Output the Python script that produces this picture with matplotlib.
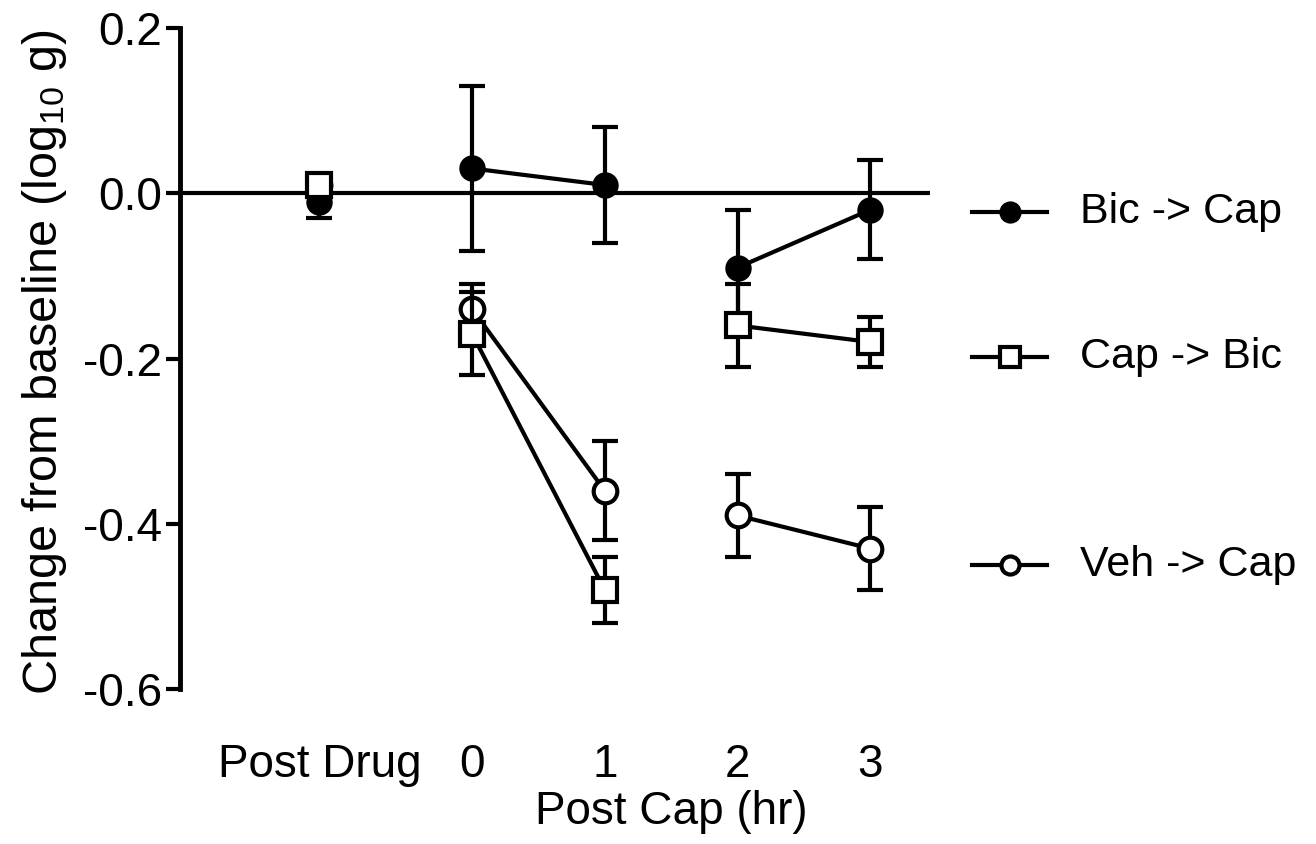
import matplotlib
matplotlib.use('Agg')
import matplotlib.pyplot as plt
import numpy as np

plt.rcParams['font.family'] = ['Liberation Sans', 'DejaVu Sans']
plt.rcParams['mathtext.default'] = 'regular'
plt.rcParams['axes.unicode_minus'] = False

# x positions (post drug sits a bit further left), tick labels
x_pos = [-1.15, 0, 1, 2, 3]
x_labels = ['Post Drug', '0', '1', '2', '3']

# mean and error (log10 g change from baseline)
bic_cap = [-0.01, 0.03, 0.01, -0.09, -0.02]
bic_cap_err = [0.02, 0.10, 0.07, 0.07, 0.06]
cap_bic = [0.01, -0.17, -0.48, -0.16, -0.18]
cap_bic_err = [0.01, 0.05, 0.04, 0.05, 0.03]
veh_cap = [0.01, -0.14, -0.36, -0.39, -0.43]
veh_cap_err = [0.01, 0.03, 0.06, 0.05, 0.05]

# points are only joined inside these groups
segments = [[1, 2], [3, 4]]

series = [
    ('Bic -> Cap', bic_cap, bic_cap_err, 'o', 'black', 16),
    ('Veh -> Cap', veh_cap, veh_cap_err, 'o', 'white', 17),
    ('Cap -> Bic', cap_bic, cap_bic_err, 's', 'white', 17),
]

fig = plt.figure(figsize=(13.16, 8.44), dpi=100)
ax = fig.add_axes([180 / 1316, 1 - 689 / 844, 750 / 1316, 661 / 844])

ax.axhline(0, color='black', lw=3, zorder=1)

z = 2
for name, y, err, mk, fc, ms in series:
    ax.errorbar(x_pos, y, yerr=err, fmt='none', ecolor='black', elinewidth=3,
                capsize=9.7, capthick=3, zorder=z)
    for seg in segments:
        ax.plot([x_pos[i] for i in seg], [y[i] for i in seg], color='black',
                lw=3, zorder=z)
    ax.plot(x_pos, y, linestyle='none', marker=mk, markersize=ms,
            markerfacecolor=fc, markeredgecolor='black', markeredgewidth=3,
            zorder=z + 0.5)
    z += 1

ax.set_xlim(-2.2, 3.45)
ax.set_ylim(-0.6, 0.2)
ax.set_yticks([0.2, 0.0, -0.2, -0.4, -0.6])
ax.set_yticklabels(['%.1f' % v for v in [0.2, 0.0, -0.2, -0.4, -0.6]])
ax.set_xticks(x_pos)
ax.set_xticklabels(x_labels)

for s in ['top', 'right', 'bottom']:
    ax.spines[s].set_visible(False)
ax.spines['left'].set_linewidth(3.5)
ax.tick_params(axis='y', length=10, width=3, pad=3, labelsize=33)
ax.tick_params(axis='x', length=0, pad=39, labelsize=33)
ax.patch.set_alpha(0)

ax.text(1.5, -0.186, 'Post Cap (hr)', transform=ax.get_xaxis_transform(),
        ha='center', va='center', fontsize=33)
fig.text(45 / 1316, 1 - 362 / 844, 'Change from baseline (log$_{10}$ g)',
         rotation=90, ha='center', va='center', fontsize=35)

# legend drawn by hand, like the original layout
legend_y = [212, 357, 565]
legend_items = [series[0], series[2], series[1]]
lax = fig.add_axes([0, 0, 1, 1])
lax.set_xlim(0, 1316)
lax.set_ylim(844, 0)
lax.axis('off')
for (name, y, err, mk, fc, ms), ly in zip(legend_items, legend_y):
    lax.plot([972, 1047], [ly, ly], color='black', lw=3)
    lax.plot([1010], [ly], marker=mk, markersize=13 if mk == 'o' else 14,
             markerfacecolor=fc, markeredgecolor='black', markeredgewidth=3)
    lax.text(1080, ly, name, ha='left', va='center', fontsize=31)

fig.savefig('out.png', dpi=100)
